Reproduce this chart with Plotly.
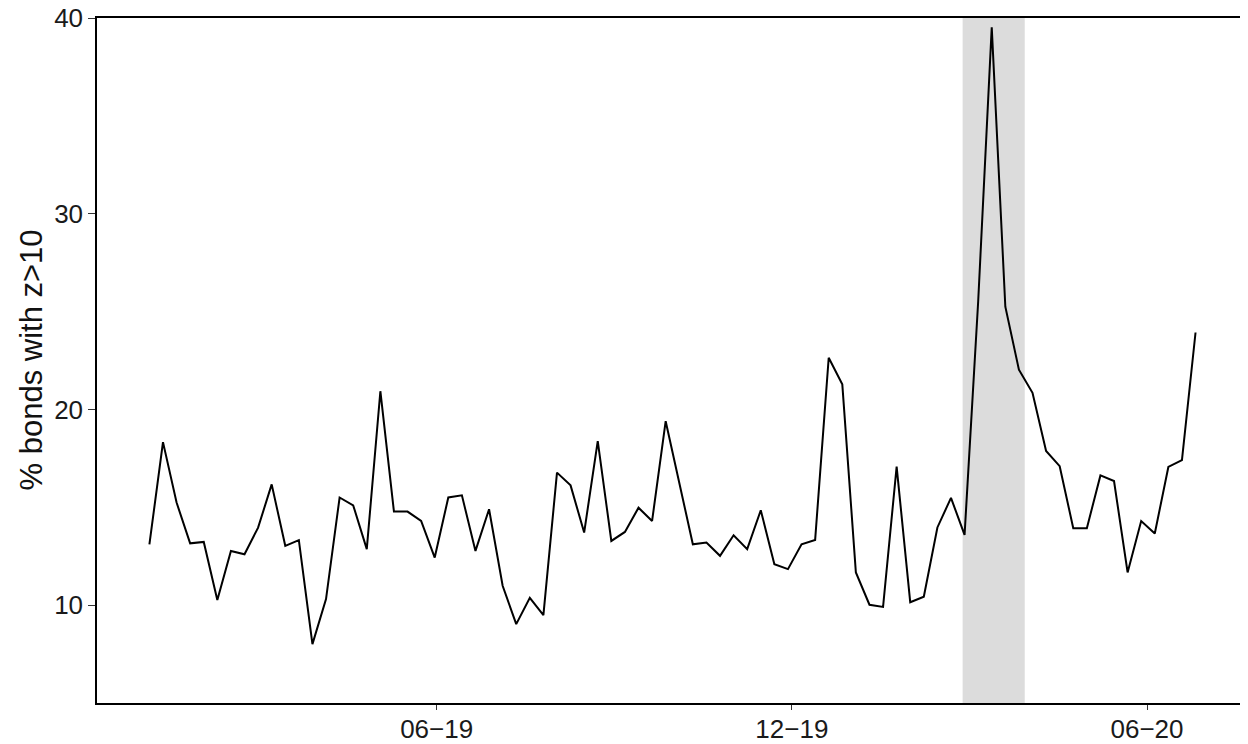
import pandas as pd
import plotly.graph_objects as go

# ---- data ----
start_date = "2019-01-04"
pct_bonds_z_gt_10 = [
    13.10, 18.33, 15.24, 13.16, 13.23, 10.26, 12.77, 12.60, 13.96, 16.17,
    13.03, 13.32, 8.01, 10.31, 15.50, 15.10, 12.86, 20.93, 14.78, 14.78,
    14.30, 12.43, 15.50, 15.61, 12.77, 14.90, 10.99, 9.03, 10.37, 9.49,
    16.77, 16.12, 13.71, 18.38, 13.28, 13.74, 14.98, 14.30, 19.40, 16.30,
    13.11, 13.20, 12.52, 13.57, 12.86, 14.85, 12.09, 11.84, 13.11, 13.33,
    22.64, 21.28, 11.67, 10.02, 9.91, 17.08, 10.15, 10.43, 13.97, 15.48,
    13.59, 25.50, 39.53, 25.25, 22.03, 20.85, 17.88, 17.10, 13.93, 13.93,
    16.63, 16.34, 11.67, 14.30, 13.66, 17.06, 17.41, 23.93,
]
dates = pd.date_range(start=start_date, periods=len(pct_bonds_z_gt_10), freq="7D")

shade_start = "2020-02-27"
shade_end = "2020-03-30"

x_tick_vals = ["2019-06-01", "2019-12-01", "2020-06-01"]
x_tick_text = ["06\u221219", "12\u221219", "06\u221220"]
y_tick_vals = [10, 20, 30, 40]
x_range = ["2018-12-08", "2020-07-22"]
y_range = [5, 40]
y_title = "% bonds with z>10"

FONT = "Liberation Sans, Arial, Helvetica, sans-serif"

# the page body adds an 8px offset; size the figure to compensate
W, H = 1240, 736
ML, MR, MT, MB = 89, 2, 10, 41
plot_w = W - ML - MR

fig = go.Figure()
fig.add_trace(go.Scatter(
    x=dates, y=pct_bonds_z_gt_10, mode="lines",
    line=dict(color="black", width=2), showlegend=False,
))

fig.add_shape(type="rect", xref="x", yref="paper",
              x0=shade_start, x1=shade_end, y0=0, y1=1,
              fillcolor="#DCDCDC", line=dict(width=0), layer="below")

# thin grey right border
fig.add_shape(type="line", xref="paper", yref="paper",
              x0=1, x1=1, y0=0, y1=1,
              line=dict(color="#9a9a9a", width=1))

fig.add_annotation(
    text=y_title, xref="paper", yref="paper",
    x=-66 / plot_w, y=0.5, xanchor="center", yanchor="middle",
    textangle=-90, showarrow=False,
    font=dict(family=FONT, size=31, color="#111111"),
)

fig.update_layout(
    width=W, height=H,
    margin=dict(l=ML, r=MR, t=MT, b=MB, autoexpand=False),
    plot_bgcolor="white", paper_bgcolor="white",
    font=dict(family=FONT, color="#1a1a1a"),
    xaxis=dict(
        range=x_range, tickmode="array", tickvals=x_tick_vals, ticktext=x_tick_text,
        showgrid=False, zeroline=False, automargin=False,
        showline=True, linecolor="black", linewidth=2, mirror=True,
        ticks="outside", ticklen=5, tickwidth=1, tickcolor="#333333",
        ticklabelstandoff=-3,
        tickfont=dict(family=FONT, size=26, color="#1a1a1a"),
    ),
    yaxis=dict(
        range=y_range, tickmode="array", tickvals=y_tick_vals,
        showgrid=False, zeroline=False, automargin=False,
        showline=True, linecolor="black", linewidth=1.5,
        ticks="outside", ticklen=7, tickwidth=1, tickcolor="#333333",
        ticklabeloverflow="allow",
        tickfont=dict(family=FONT, size=26, color="#1a1a1a"),
    ),
)

fig.write_html("out.html")
